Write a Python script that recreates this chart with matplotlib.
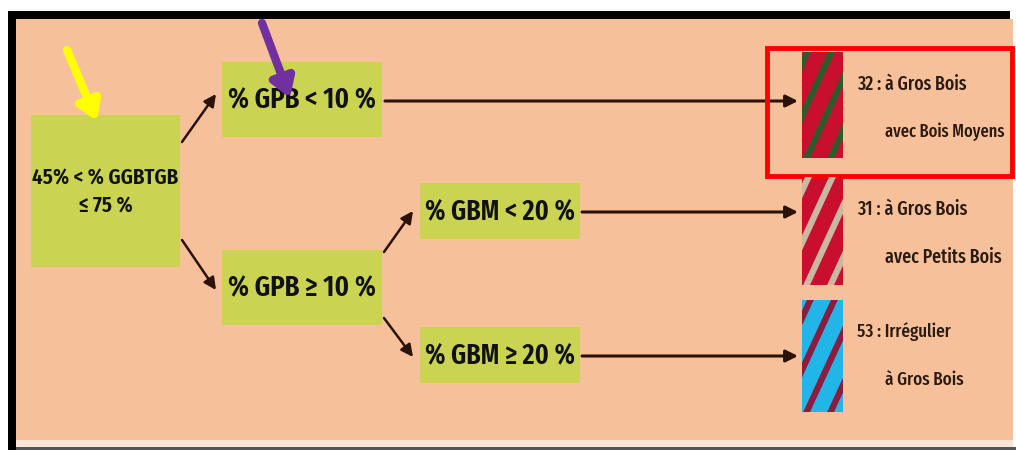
import matplotlib.pyplot as plt
from matplotlib import font_manager
from matplotlib.patches import Rectangle, FancyArrowPatch

# a condensed face is closest to the original layout font
installed = {f.name for f in font_manager.fontManager.ttflist}
prefs = ["Fira Sans Extra Condensed", "Sofia Sans Extra Condensed",
         "Saira Extra Condensed", "Encode Sans Compressed", "Barlow Condensed",
         "Roboto Condensed", "PT Sans Narrow", "IBM Plex Sans Condensed"]
cond = [p for p in prefs if p in installed][:1]
plt.rcParams['font.family'] = cond + ['DejaVu Sans']

# diagram content
box_labels = ["45% < % GGBTGB\n≤ 75 %", "% GPB < 10 %", "% GPB ≥ 10 %",
              "% GBM < 20 %", "% GBM ≥ 20 %"]
# box extents in pixels: x0, y0, x1, y1
box_xy = [(31, 115, 180, 267), (222, 62, 382, 137), (222, 250, 382, 325),
          (420, 183, 580, 239), (420, 327, 580, 383)]
box_text_w = [146, 148, 148, 150, 150]
type_codes = ["32", "31", "53"]
type_line1 = ["à Gros Bois", "à Gros Bois", "Irrégulier"]
type_line2 = ["avec Bois Moyens", "avec Petits Bois", "à Gros Bois"]
swatch_y = [(52, 158), (177, 285), (300, 412)]
swatch_bg = ["#c8102e", "#c8102e", "#22b5e8"]
swatch_stripe = ["#2f5a2c", "#c9b9a3", "#8c1c40"]

peach = "#f6c19a"
green = "#cad452"
dark = "#2a1208"

fig = plt.figure(figsize=(10.16, 4.5), dpi=100)
ax = fig.add_axes([0, 0, 1, 1])
ax.set_xlim(0, 1016)
ax.set_ylim(450, 0)
ax.axis("off")
renderer = fig.canvas.get_renderer()


def fit(t, width, cap):
    # scale the font so the text spans about the width seen in the original
    w = t.get_window_extent(renderer).width
    t.set_fontsize(min(cap, t.get_fontsize() * width / w))


# frame
ax.add_patch(Rectangle((16, 19), 997, 421, color=peach, lw=0))
ax.add_patch(Rectangle((8, 11), 1002, 8, color="black", lw=0))
ax.add_patch(Rectangle((8, 11), 8, 439, color="black", lw=0))
ax.add_patch(Rectangle((16, 440), 997, 7, color="#fbe6d6", lw=0))
ax.add_patch(Rectangle((16, 447), 1000, 3, color="#555555", lw=0))

# green boxes
for (x0, y0, x1, y1), lab, tw in zip(box_xy, box_labels, box_text_w):
    ax.add_patch(Rectangle((x0, y0), x1 - x0, y1 - y0, color=green, lw=0))
    t = ax.text((x0 + x1) / 2, (y0 + y1) / 2 + 1, lab, ha="center", va="center",
                fontsize=20, color="#111111", linespacing=1.4,
                fontweight="semibold")
    fit(t, tw, 31)


def arrow(p0, p1, lw=1.8):
    ax.add_patch(FancyArrowPatch(p0, p1, arrowstyle="-|>", mutation_scale=18,
                                 color=dark, lw=lw, shrinkA=0, shrinkB=0))


arrow((182, 142), (216, 94))
arrow((182, 240), (216, 290))
arrow((384, 252), (413, 211))
arrow((384, 318), (413, 357))
arrow((385, 101), (798, 101), lw=2.2)
arrow((582, 212), (798, 212), lw=2.2)
arrow((582, 356), (798, 356), lw=2.2)

# striped swatches
for (y0, y1), bg, st in zip(swatch_y, swatch_bg, swatch_stripe):
    rect = Rectangle((802, y0), 41, y1 - y0, color=bg, lw=0)
    ax.add_patch(rect)
    for k in range(-6, 4):
        xs = 802 + k * 24
        ln, = ax.plot([xs, xs + 60], [y1 + 10, y1 - 120], color=st, lw=4.5,
                      solid_capstyle="butt")
        ln.set_clip_path(rect)

# type labels
for code, l1, l2, (y0, y1) in zip(type_codes, type_line1, type_line2, swatch_y):
    t1 = ax.text(857, y0 + 32, f"{code} : {l1}", ha="left", va="center",
                 fontsize=18, color="#2a1a12", fontweight="medium")
    t2 = ax.text(885, y0 + 80, l2, ha="left", va="center",
                 fontsize=18, color="#2a1a12", fontweight="medium")
    fit(t1, 110 if code != "53" else 94, 23)
    t2.set_fontsize(t1.get_fontsize())
    fit(t2, 1004 - 885, t1.get_fontsize())

# red highlight frame
ax.add_patch(Rectangle((767, 48), 245, 128, fill=False, ec="#ff0000", lw=3.5))

# annotation arrows
ax.annotate("", xy=(97, 121), xytext=(67, 50),
            arrowprops=dict(arrowstyle="-|>,head_width=0.7,head_length=1.1",
                            color="#ffff00", lw=6, shrinkA=0, shrinkB=0))
ax.annotate("", xy=(290, 98), xytext=(262, 23),
            arrowprops=dict(arrowstyle="-|>,head_width=0.7,head_length=1.1",
                            color="#7030a0", lw=6, shrinkA=0, shrinkB=0))

fig.savefig("out.png", dpi=100)
